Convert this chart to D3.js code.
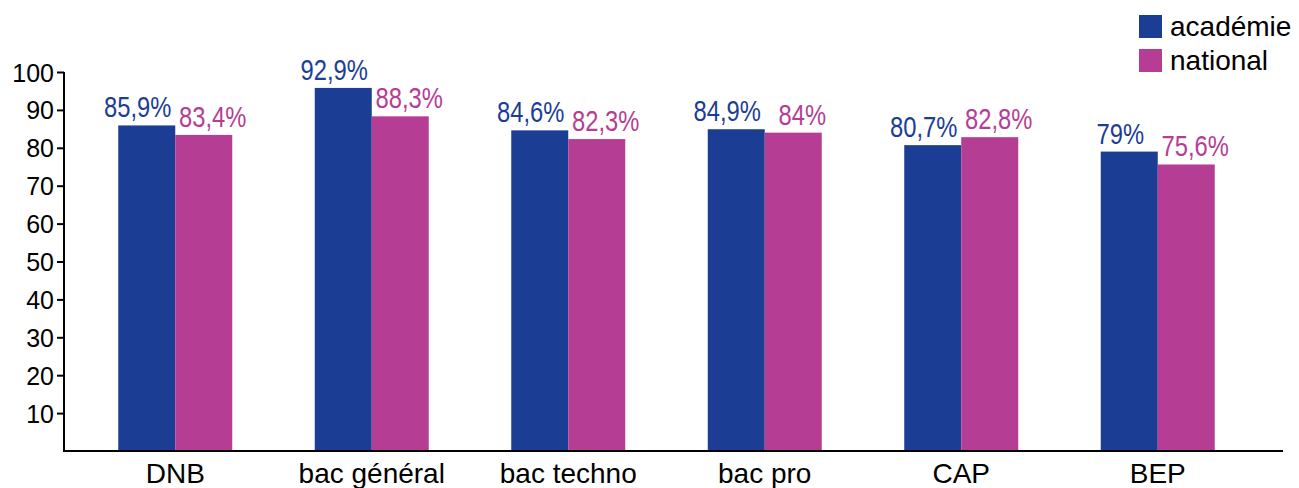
<!DOCTYPE html>
<html>
<head>
<meta charset="utf-8">
<script src="https://cdn.jsdelivr.net/npm/d3@7"></script>
<style>
  html, body { margin: 0; padding: 0; background: #fff; }
  svg { display: block; }
</style>
</head>
<body>
<svg id="chart" width="1299" height="488"></svg>
<script>
const categories = ["DNB", "bac général", "bac techno", "bac pro", "CAP", "BEP"];
const seriesNames = ["académie", "national"];
// bar heights as drawn in the reference
const academie = [85.9, 95.8, 84.6, 84.9, 80.7, 79.0];
const national = [83.4, 88.3, 82.3, 84.0, 82.8, 75.6];
// value labels as printed in the reference
const academieLabels = ["85,9%", "92,9%", "84,6%", "84,9%", "80,7%", "79%"];
const nationalLabels = ["83,4%", "88,3%", "82,3%", "84%", "82,8%", "75,6%"];
const yTicks = [10, 20, 30, 40, 50, 60, 70, 80, 90, 100];
const colors = ["#1c3d94", "#b53e94"];

const svg = d3.select("#chart");
const font = "'Liberation Sans', Arial, sans-serif";

const x = d3.scaleBand().domain(categories).range([77, 1256]);
const sub = d3.scaleBand().domain(seriesNames).range([0, 114]);
const y = d3.scaleLinear().domain([0, 100]).range([451, 72]);

const series = [
  { name: seriesNames[0], values: academie, labels: academieLabels, color: colors[0], dx: -9 },
  { name: seriesNames[1], values: national, labels: nationalLabels, color: colors[1], dx: 9 }
];

// bars
series.forEach(s => {
  const g = svg.append("g");
  g.selectAll("rect").data(categories).join("rect")
    .attr("x", (c) => x(c) + x.bandwidth() / 2 - 57 + sub(s.name))
    .attr("width", sub.bandwidth())
    .attr("y", (c, i) => y(s.values[i]))
    .attr("height", (c, i) => y(0) - y(s.values[i]))
    .attr("fill", s.color);
  g.selectAll("text").data(categories).join("text")
    .attr("transform", (c, i) => {
      const cx = x(c) + x.bandwidth() / 2 - 57 + sub(s.name) + sub.bandwidth() / 2 + s.dx;
      const cy = y(s.values[i]) - 8;
      return `translate(${cx},${cy}) scale(0.82,1)`;
    })
    .attr("text-anchor", "middle")
    .attr("font-family", font)
    .attr("font-size", 29)
    .attr("fill", s.color)
    .text((c, i) => s.labels[i]);
});

// y axis
const yAxis = d3.axisLeft(y).tickValues(yTicks).tickSize(7).tickPadding(3).tickFormat(d3.format("d"));
const ya = svg.append("g").attr("transform", "translate(64,0)").call(yAxis);
ya.select(".domain").remove();
ya.selectAll(".tick line").attr("stroke", "#000").attr("stroke-width", 2);
ya.selectAll(".tick text").attr("font-family", font).attr("font-size", 25).attr("fill", "#000").attr("dy", "0.36em");
svg.append("line").attr("x1", 64).attr("x2", 64).attr("y1", y(100)).attr("y2", y(0) + 1)
  .attr("stroke", "#000").attr("stroke-width", 2);

// x axis
const xAxis = d3.axisBottom(x).tickSize(0).tickPadding(12);
const xa = svg.append("g").attr("transform", `translate(0,${y(0)})`).call(xAxis);
xa.select(".domain").remove();
xa.selectAll(".tick text").attr("font-family", font).attr("font-size", 28).attr("fill", "#000");
svg.append("line").attr("x1", 63).attr("x2", 1283).attr("y1", y(0)).attr("y2", y(0))
  .attr("stroke", "#000").attr("stroke-width", 2);

// legend
const leg = svg.append("g");
series.forEach((s, i) => {
  leg.append("rect").attr("x", 1139).attr("y", 15 + i * 34).attr("width", 23).attr("height", 23).attr("fill", s.color);
  leg.append("text").attr("x", 1170).attr("y", 36 + i * 34)
    .attr("font-family", font).attr("font-size", 28).attr("fill", "#000").text(s.name);
});
</script>
</body>
</html>
